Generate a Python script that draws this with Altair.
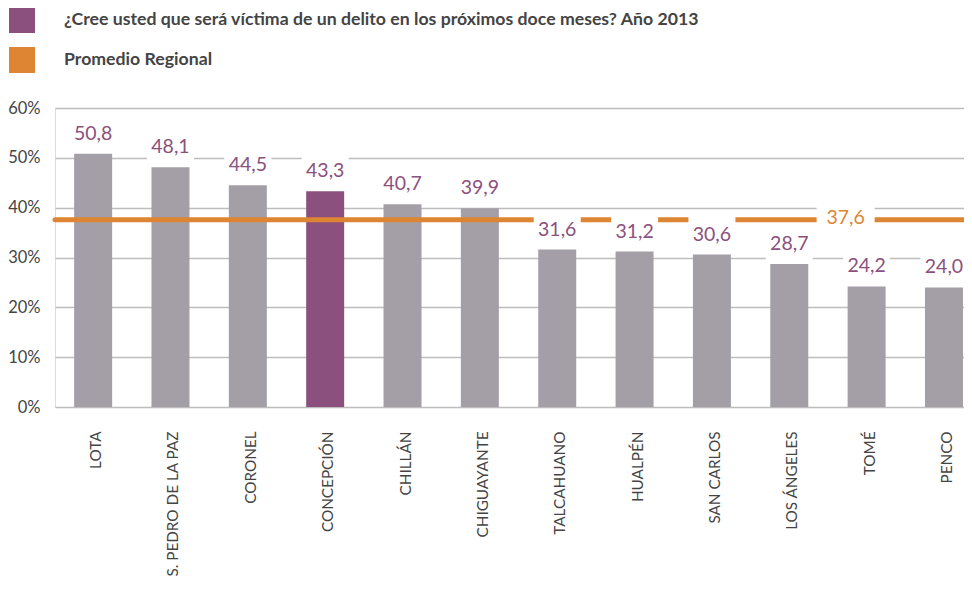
import altair as alt
import pandas as pd

comunas = ["LOTA", "S. PEDRO DE LA PAZ", "CORONEL", "CONCEPCIÓN", "CHILLÁN",
           "CHIGUAYANTE", "TALCAHUANO", "HUALPÉN", "SAN CARLOS", "LOS ÁNGELES",
           "TOMÉ", "PENCO"]
valores = [50.8, 48.1, 44.5, 43.3, 40.7, 39.9, 31.6, 31.2, 30.6, 28.7, 24.2, 24.0]
promedio = 37.6
destacada = "CONCEPCIÓN"
serie_titulo = "¿Cree usted que será víctima de un delito en los próximos doce meses? Año 2013"
serie_prom = "Promedio Regional"
y_ticks = [0, 10, 20, 30, 40, 50, 60]

PURPLE = "#8B507D"
ORANGE = "#DD8532"
GRAY = "#A49FA7"
FONT = "Lato"

def fmt(v):
    return f"{v:.1f}".replace(".", ",")

df = pd.DataFrame({
    "comuna": comunas,
    "valor": valores,
    "label": [fmt(v) for v in valores],
    "grupo": [serie_titulo if c == destacada else "otro" for c in comunas],
})
df_prom = pd.DataFrame({"comuna": ["TOMÉ"], "valor": [promedio], "label": [fmt(promedio)]})

W, H = 909, 299

x = alt.X("comuna:N", sort=comunas,
          scale=alt.Scale(paddingInner=0.508, paddingOuter=0.13, align=0.95),
          axis=alt.Axis(title=None, labelAngle=270, domain=False, ticks=False, grid=False,
                        labelPadding=24, labelFontSize=15.3, labelFont=FONT,
                        labelColor="#444444", labelLimit=300, labelOffset=3))
y = alt.Y("valor:Q",
          scale=alt.Scale(domain=[0, 60], nice=False, zero=True),
          axis=alt.Axis(title=None, values=y_ticks, domain=False, ticks=False,
                        labelExpr="datum.value + '%'", labelPadding=15,
                        labelFontSize=16.5, labelFont=FONT, labelColor="#444444",
                        grid=True, gridColor="#BDBDBD", gridWidth=1.3))

bars = alt.Chart(df).mark_bar(size=38).encode(
    x=x, y=y,
    color=alt.Color("grupo:N",
                    scale=alt.Scale(domain=[serie_titulo, serie_prom, "otro"],
                                    range=[PURPLE, ORANGE, GRAY]),
                    legend=alt.Legend(title=None, values=[serie_titulo, serie_prom],
                                      orient="none", legendX=-46, legendY=-101,
                                      padding=0, symbolType="square", symbolSize=676,
                                      symbolStrokeWidth=0, labelFontSize=17.7,
                                      labelFontWeight="bold", labelFont=FONT,
                                      labelColor="#444444", labelOffset=29,
                                      rowPadding=14, labelLimit=900)),
)

rule = alt.Chart(df_prom).mark_rule(color=ORANGE, strokeWidth=5, strokeCap="round").encode(
    y="valor:Q"
)

box_path = "M-1,-0.77L1,-0.77L1,0.77L-1,0.77Z"
boxes = alt.Chart(df).mark_point(shape=box_path, filled=True, fill="white", opacity=1,
                                 strokeWidth=0, size=47 ** 2, yOffset=-20).encode(
    x=alt.X("comuna:N", sort=comunas), y="valor:Q"
)
texts = alt.Chart(df).mark_text(dy=-20, baseline="middle", fontSize=19.5, font=FONT,
                                color=PURPLE).encode(
    x=alt.X("comuna:N", sort=comunas), y="valor:Q", text="label:N"
)

prom_box = alt.Chart(df_prom).mark_point(shape="M-1,-0.62L1,-0.62L1,0.62L-1,0.62Z",
                                         filled=True, fill="white", opacity=1,
                                         strokeWidth=0, size=58 ** 2, xOffset=-21,
                                         yOffset=-2).encode(
    x=alt.X("comuna:N", sort=comunas), y="valor:Q"
)
prom_text = alt.Chart(df_prom).mark_text(dy=-2, dx=-21, baseline="middle", fontSize=19.5,
                                         font=FONT, color=ORANGE).encode(
    x=alt.X("comuna:N", sort=comunas), y="valor:Q", text="label:N"
)

chart = alt.layer(bars, rule, boxes, texts, prom_box, prom_text).properties(
    width=W, height=H,
    autosize=alt.AutoSizeParams(type="none"),
    padding={"left": 47, "top": 100, "right": 0, "bottom": 174},
).configure_view(stroke=None).configure(background="white")

chart.save("out.html", embed_options={"renderer": "svg", "actions": False})
